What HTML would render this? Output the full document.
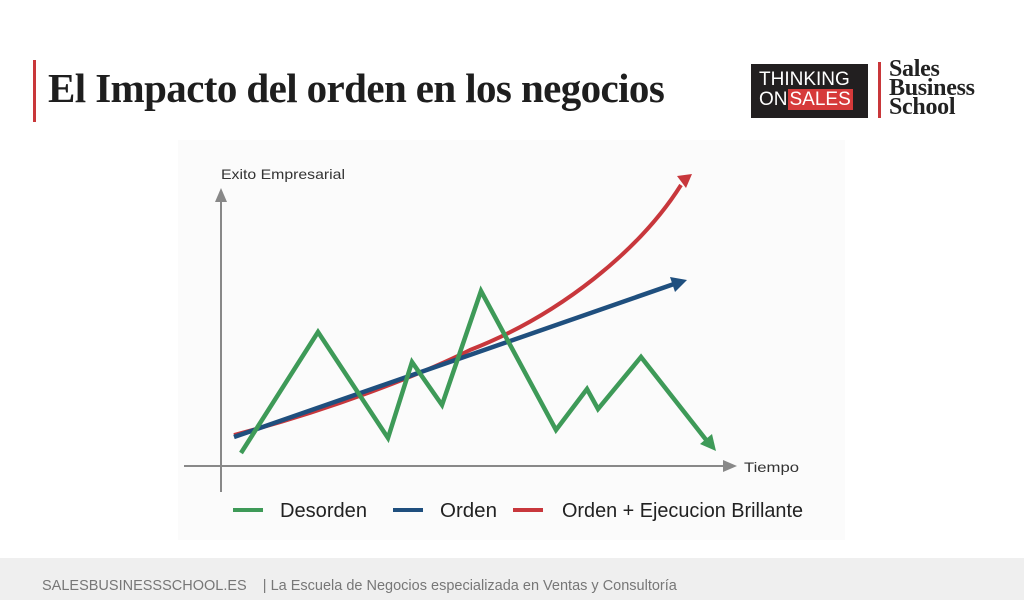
<!DOCTYPE html>
<html><head><meta charset="utf-8"><style>
body{margin:0;width:1024px;height:600px;background:#fff;position:relative;overflow:hidden;font-family:"Liberation Sans",sans-serif}
.title{position:absolute;left:33px;top:60px;height:62px;border-left:3px solid #c9373a;padding-left:12px;font-family:"Liberation Serif",serif;font-weight:bold;font-size:41px;line-height:56px;color:#1e1e1e;letter-spacing:-0.6px}
.logo1{position:absolute;left:751px;top:64px;width:117px;height:54px;background:#221f20;color:#fff;font-size:19px;line-height:20px}
.footer{position:absolute;left:0;top:558px;width:1024px;height:42px;background:#efefef;color:#777;font-size:14.5px;line-height:56px;padding-left:42px;box-sizing:border-box}
</style></head><body>
<div class="title">El Impacto del orden en los negocios</div>
<div class="logo1"><div style="position:absolute;left:8px;top:6px">THINKING</div><div style="position:absolute;left:8px;top:26px">ON<span style="background:#d63a3a;padding:0 2px">SALES</span></div></div>
<div style="position:absolute;left:878px;top:62px;width:3px;height:56px;background:#c9373a"></div>
<div style="position:absolute;left:889px;top:60px;font-family:'Liberation Serif',serif;font-weight:bold;font-size:24px;line-height:19px;color:#222;letter-spacing:-0.3px">Sales<br>Business<br>School</div>
<div style="position:absolute;left:178px;top:140px;width:667px;height:400px;background:#fbfbfb"></div>
<svg style="position:absolute;left:0;top:0" width="1024" height="600">
<line x1="221" y1="492" x2="221" y2="200" stroke="#888" stroke-width="2"/>
<path d="M215,202L221,188L227,202z" fill="#888"/>
<line x1="184" y1="466" x2="725" y2="466" stroke="#888" stroke-width="2"/>
<path d="M723,460L737,466L723,472z" fill="#888"/>
<text x="221" y="179" font-family="Liberation Sans,sans-serif" font-size="14" fill="#333" textLength="124" lengthAdjust="spacingAndGlyphs">Exito Empresarial</text>
<text x="744" y="472" font-family="Liberation Sans,sans-serif" font-size="14" fill="#333" textLength="55" lengthAdjust="spacingAndGlyphs">Tiempo</text>
<path d="M234,435 C330,410 420,375 470,350 C560,315 640,250 681,185" fill="none" stroke="#c8373c" stroke-width="4"/>
<path d="M677,176L692,174L686,188z" fill="#c8373c"/>
<line x1="234" y1="437" x2="674" y2="284" stroke="#1f4f7e" stroke-width="4.5"/>
<path d="M670,277L687,280L675,292z" fill="#1f4f7e"/>
<polyline points="241,453 318,332 388,438 412,362 442,405 481,291 556,430 587,389 598,409 641,357 707,441" fill="none" stroke="#3e9a58" stroke-width="4.5" stroke-linejoin="miter"/>
<path d="M700,444L716,451L712,434z" fill="#3e9a58"/>
<line x1="233" y1="510" x2="263" y2="510" stroke="#3e9a58" stroke-width="4"/>
<text x="280" y="517" font-family="Liberation Sans,sans-serif" font-size="20" fill="#222" textLength="87" lengthAdjust="spacingAndGlyphs">Desorden</text>
<line x1="393" y1="510" x2="423" y2="510" stroke="#1f4f7e" stroke-width="4"/>
<text x="440" y="517" font-family="Liberation Sans,sans-serif" font-size="20" fill="#222" textLength="57" lengthAdjust="spacingAndGlyphs">Orden</text>
<line x1="513" y1="510" x2="543" y2="510" stroke="#c8373c" stroke-width="4"/>
<text x="562" y="517" font-family="Liberation Sans,sans-serif" font-size="20" fill="#222" textLength="241" lengthAdjust="spacingAndGlyphs">Orden + Ejecucion Brillante</text>
</svg>
<div class="footer">SALESBUSINESSSCHOOL.ES &nbsp;&nbsp;&nbsp;| La Escuela de Negocios especializada en Ventas y Consultoría</div>
</body></html>
